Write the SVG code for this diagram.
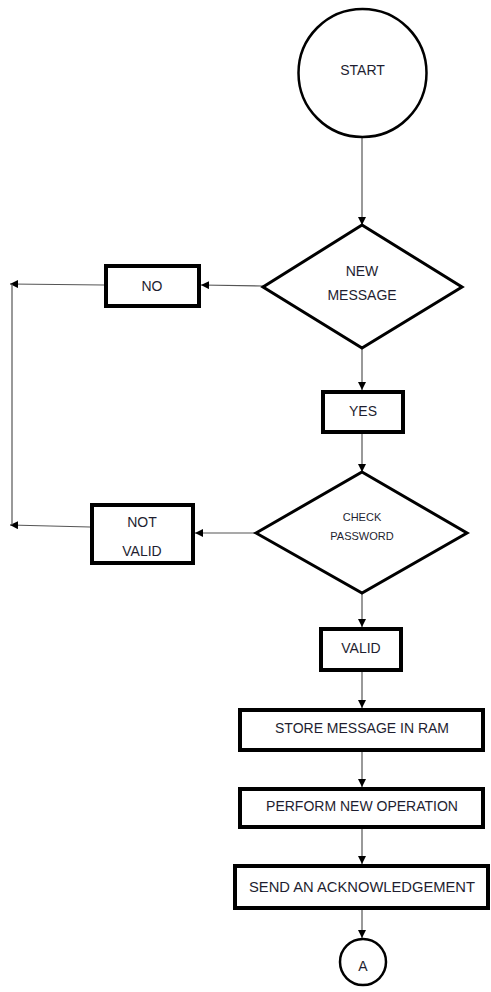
<svg xmlns="http://www.w3.org/2000/svg" width="491" height="992" viewBox="0 0 491 992">
<style>
.box{fill:#fff;stroke:#000;stroke-width:4}
.dia{fill:#fff;stroke:#000;stroke-width:3;stroke-linejoin:miter}
.circ{fill:#fff;stroke:#000}
.lbl{font-family:"Liberation Sans",Arial,sans-serif;font-size:14px;fill:#1e1e30;text-anchor:middle;dominant-baseline:central}
.sm{font-size:11px}
.conn{stroke:#555;stroke-width:1.2;fill:none}
</style>
<defs>
<marker id="ah" markerUnits="userSpaceOnUse" markerWidth="8" markerHeight="8" viewBox="0 0 8 8" refX="8" refY="4" orient="auto">
<path d="M0,0 L8,4 L0,8 Z" fill="#000"/>
</marker>
</defs>
<rect width="491" height="992" fill="#fff"/>
<g id="connectors">
<line class="conn" x1="362" y1="138" x2="362" y2="225" marker-end="url(#ah)"/>
<line class="conn" x1="362" y1="348" x2="362" y2="390" marker-end="url(#ah)"/>
<line class="conn" x1="362" y1="434" x2="362" y2="472" marker-end="url(#ah)"/>
<line class="conn" x1="362" y1="593" x2="362" y2="627" marker-end="url(#ah)"/>
<line class="conn" x1="362" y1="672" x2="362" y2="708" marker-end="url(#ah)"/>
<line class="conn" x1="362" y1="752" x2="362" y2="787" marker-end="url(#ah)"/>
<line class="conn" x1="362" y1="829" x2="362" y2="864" marker-end="url(#ah)"/>
<line class="conn" x1="362" y1="910" x2="362" y2="938" marker-end="url(#ah)"/>
<line class="conn" x1="263" y1="286" x2="201" y2="285" marker-end="url(#ah)"/>
<line class="conn" x1="104" y1="285" x2="10" y2="284" marker-end="url(#ah)"/>
<line class="conn" x1="256" y1="533" x2="195" y2="533" marker-end="url(#ah)"/>
<line class="conn" x1="90" y1="527" x2="10" y2="525" marker-end="url(#ah)"/>
<line class="conn" x1="12" y1="284" x2="12" y2="525"/>
</g>
<g id="start">
<circle class="circ" cx="362.5" cy="73" r="64" stroke-width="2.5"/>
<text class="lbl" x="362.5" y="70">START</text>
</g>
<g id="new-message">
<polygon class="dia" points="362,225 462,287 362,348 263,287"/>
<text class="lbl" x="362" y="271">NEW</text>
<text class="lbl" x="362" y="295">MESSAGE</text>
</g>
<g id="no">
<rect class="box" x="106" y="266" width="93" height="40"/>
<text class="lbl" x="152" y="286">NO</text>
</g>
<g id="yes">
<rect class="box" x="323" y="392" width="80" height="40"/>
<text class="lbl" x="363" y="411">YES</text>
</g>
<g id="check-password">
<polygon class="dia" points="362,472 467,533 362,593 256,533"/>
<text class="lbl sm" x="362" y="517">CHECK</text>
<text class="lbl sm" x="362" y="536">PASSWORD</text>
</g>
<g id="not-valid">
<rect class="box" x="92" y="505" width="101" height="58"/>
<text class="lbl" x="142" y="522">NOT</text>
<text class="lbl" x="142" y="551">VALID</text>
</g>
<g id="valid">
<rect class="box" x="321" y="629" width="80" height="41"/>
<text class="lbl" x="361" y="648">VALID</text>
</g>
<g id="store">
<rect class="box" x="240" y="710" width="243" height="40"/>
<text class="lbl" x="362" y="728">STORE MESSAGE IN RAM</text>
</g>
<g id="perform">
<rect class="box" x="240" y="789" width="243" height="38"/>
<text class="lbl" x="362" y="806">PERFORM NEW OPERATION</text>
</g>
<g id="send">
<rect class="box" x="235" y="866" width="253" height="42"/>
<text class="lbl" x="362" y="887" textLength="226" lengthAdjust="spacingAndGlyphs">SEND AN ACKNOWLEDGEMENT</text>
</g>
<g id="connector-a">
<circle class="circ" cx="363" cy="962" r="23" stroke-width="2.5"/>
<text class="lbl" x="363" y="966">A</text>
</g>
</svg>
